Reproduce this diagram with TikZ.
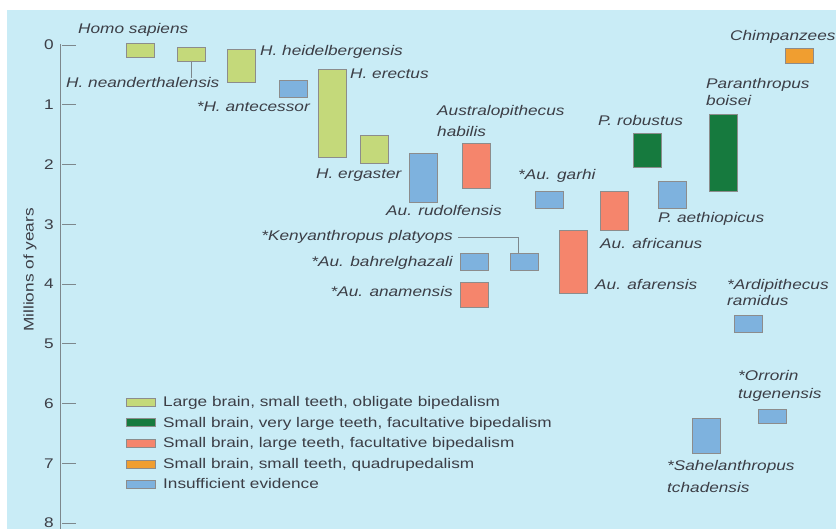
\documentclass[tikz,border=0pt]{standalone}
\usepackage{fontspec}
\setmainfont{Liberation Sans}[FakeStretch=1.23]

\definecolor{bg}{RGB}{201,236,246}
\definecolor{lgreen}{RGB}{196,217,122}
\definecolor{dgreen}{RGB}{22,122,62}
\definecolor{salmon}{RGB}{245,133,108}
\definecolor{amber}{RGB}{240,158,48}
\definecolor{skyblue}{RGB}{126,178,222}
\definecolor{txt}{RGB}{60,62,70}
\definecolor{axisgray}{RGB}{125,135,140}

\tikzset{
  fossil/.style={draw=black!45, line width=0.6pt, inner sep=0pt, minimum width=28pt, anchor=north},
  obligate/.style={fossil, fill=lgreen},
  robust/.style={fossil, fill=dgreen},
  facultative/.style={fossil, fill=salmon},
  quadruped/.style={fossil, fill=amber},
  insufficient/.style={fossil, fill=skyblue},
  lab/.style={font=\fontsize{14}{16}\selectfont\itshape, text=txt, inner sep=0pt, anchor=base west},
  labr/.style={lab, anchor=base east},
  link/.style={axisgray, line width=0.6pt}
}

\begin{document}
\begin{tikzpicture}[x=1pt, y=-1pt]
  \useasboundingbox (0,0) rectangle (836,529);
  \fill[white] (0,0) rectangle (836,529);
  \fill[bg] (7,10) rectangle (836,529);

  % time axis
  \draw[axisgray, line width=0.8pt] (60,44) -- (60,529);
  \foreach \m in {0,...,8} {
    \draw[axisgray, line width=0.6pt] (62,{45+59.75*\m}) -- (76,{45+59.75*\m});
    \node[font=\fontsize{14}{16}\selectfont, text=txt, inner sep=0pt, anchor=east] (tick\m) at (54,{45+59.75*\m}) {\m};
  }
  \node[font=\fontsize{14}{16}\selectfont, text=txt, rotate=90] (yaxis) at (30,270) {Millions of years};

  % species ranges
  \node[obligate, minimum height=14pt] (hsap) at (140.5,43) {};
  \node[obligate, minimum height=14pt] (hnea) at (191,47) {};
  \node[obligate, minimum height=33pt] (hhei) at (241.5,49) {};
  \node[insufficient, minimum height=17pt] (hant) at (293.5,80) {};
  \node[obligate, minimum height=88pt] (hrec) at (332,69) {};
  \node[obligate, minimum height=28pt] (herg) at (374,135) {};
  \node[insufficient, minimum height=49pt] (arud) at (423,153) {};
  \node[facultative, minimum height=45pt] (ahab) at (476,143) {};
  \node[insufficient, minimum height=17pt] (agar) at (549.5,191) {};
  \node[facultative, minimum height=39pt] (aafr) at (614.5,191) {};
  \node[robust, minimum height=34pt] (prob) at (647.5,133) {};
  \node[insufficient, minimum height=27pt] (paet) at (672,181) {};
  \node[robust, minimum height=77pt] (pboi) at (723,114) {};
  \node[quadruped, minimum height=15pt] (chim) at (799,48) {};
  \node[insufficient, minimum height=17pt] (kpla) at (524,253) {};
  \node[insufficient, minimum height=17pt] (abah) at (474.5,253) {};
  \node[facultative, minimum height=25pt] (aana) at (474.5,282) {};
  \node[facultative, minimum height=63pt] (aafa) at (573.5,230) {};
  \node[insufficient, minimum height=17pt] (aram) at (748.5,315) {};
  \node[insufficient, minimum height=14pt] (orro) at (772.5,409) {};
  \node[insufficient, minimum height=35pt] (sahe) at (706,418) {};

  % names
  \node[lab] (hsaplab) at (78,34) {Homo sapiens};
  \node[lab] (hnealab) at (66,88) {H. neanderthalensis};
  \node[lab] (hheilab) at (260,56) {H. heidelbergensis};
  \node[labr] (hantlab) at (310,112) {*H. antecessor};
  \node[lab] (hreclab) at (350,79) {H. erectus};
  \node[lab] (herglab) at (316,179) {H. ergaster};
  \node[lab] (arudlab) at (386,216) {Au. rudolfensis};
  \node[lab] (ahablab) at (437,116) {Australopithecus};
  \node[lab] (ahablab2) at (437,137) {habilis};
  \node[lab] (agarlab) at (518,180) {*Au. garhi};
  \node[lab] (problab) at (598,126) {P. robustus};
  \node[lab] (paetlab) at (658,223) {P. aethiopicus};
  \node[lab] (aafrlab) at (600,249) {Au. africanus};
  \node[lab] (aafalab) at (595,290) {Au. afarensis};
  \node[lab] (pboilab) at (706,89) {Paranthropus};
  \node[lab] (pboilab2) at (706,106) {boisei};
  \node[lab] (chimlab) at (730,41) {Chimpanzees};
  \node[lab] (aramlab) at (727,290) {*Ardipithecus};
  \node[lab] (aramlab2) at (727,306) {ramidus};
  \node[lab] (orrolab) at (738,381) {*Orrorin};
  \node[lab] (orrolab2) at (738,399) {tugenensis};
  \node[lab] (sahelab) at (667,471) {*Sahelanthropus};
  \node[lab] (sahelab2) at (667,492) {tchadensis};
  \node[labr] (kplalab) at (453,241) {*Kenyanthropus platyops};
  \node[labr] (abahlab) at (453,267) {*Au. bahrelghazali};
  \node[labr] (aanalab) at (453,297) {*Au. anamensis};

  \draw[link] (hnea.south) -- (hnea.south |- hnealab.north);
  \draw[link] ([xshift=5pt]kplalab.east) -| ([xshift=-6pt]kpla.north);

  % key
  \foreach \sty/\txt [count=\i] in {obligate/{Large brain, small teeth, obligate bipedalism},
      robust/{Small brain, very large teeth, facultative bipedalism},
      facultative/{Small brain, large teeth, facultative bipedalism},
      quadruped/{Small brain, small teeth, quadrupedalism},
      insufficient/{Insufficient evidence}} {
    \node[\sty, anchor=center, minimum width=29pt, minimum height=8pt] (key\i) at (140.5,{402+20.6*(\i-1)}) {};
    \node[lab, font=\fontsize{14}{16}\selectfont] (keylab\i) at (163,{406.5+20.6*(\i-1)}) {\txt};
  }
\end{tikzpicture}
\end{document}
